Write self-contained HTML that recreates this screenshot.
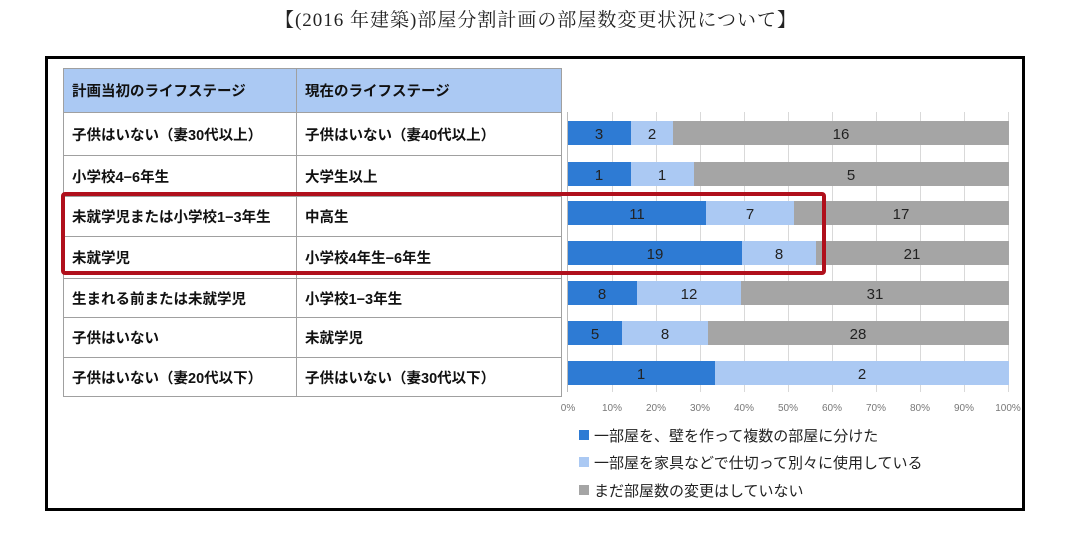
<!DOCTYPE html>
<html><head><meta charset="utf-8"><style>
body{margin:0;background:#fff;width:1072px;height:537px;position:relative;overflow:hidden;font-family:"Liberation Sans","Noto Sans CJK JP",sans-serif}
.t{position:absolute;top:5px;left:0;width:1072px;text-align:center;font-family:"Liberation Serif","Noto Serif CJK SC",serif;font-size:19px;letter-spacing:1px;color:#222}
.box{position:absolute;left:45px;top:56px;width:974px;height:449px;border:3px solid #000}
table{position:absolute;left:63px;top:68px;border-collapse:collapse;font-size:14.5px;font-weight:bold;color:#111}
td{border:1px solid #a0a0a0;padding:0 0 0 8px;height:39px;box-sizing:border-box}
</style></head><body>
<div class="t">【(2016 年建築)部屋分割計画の部屋数変更状況について】</div>
<div class="box"></div>
<table>
<tr style="background:#abc9f3"><td style="width:233px;height:44px">計画当初のライフステージ</td><td style="width:265px">現在のライフステージ</td></tr>
<tr><td style="height:43px">子供はいない（妻30代以上）</td><td>子供はいない（妻40代以上）</td></tr>
<tr><td style="height:41px">小学校4−6年生</td><td>大学生以上</td></tr>
<tr><td style="height:40px">未就学児または小学校1−3年生</td><td>中高生</td></tr>
<tr><td style="height:42px">未就学児</td><td>小学校4年生−6年生</td></tr>
<tr><td style="height:39px">生まれる前または未就学児</td><td>小学校1−3年生</td></tr>
<tr><td style="height:40px">子供はいない</td><td>未就学児</td></tr>
<tr><td style="height:31px">子供はいない（妻20代以下）</td><td>子供はいない（妻30代以下）</td></tr>
</table>
<svg width="1072" height="537" style="position:absolute;left:0;top:0" font-family="Liberation Sans, Noto Sans CJK JP, sans-serif">
<g stroke="#d9d9d9" stroke-width="1">
<line x1="612.5" y1="112" x2="612.5" y2="392"/><line x1="656.5" y1="112" x2="656.5" y2="392"/><line x1="700.5" y1="112" x2="700.5" y2="392"/><line x1="744.5" y1="112" x2="744.5" y2="392"/><line x1="788.5" y1="112" x2="788.5" y2="392"/><line x1="832.5" y1="112" x2="832.5" y2="392"/><line x1="876.5" y1="112" x2="876.5" y2="392"/><line x1="920.5" y1="112" x2="920.5" y2="392"/><line x1="964.5" y1="112" x2="964.5" y2="392"/><line x1="1008.5" y1="112" x2="1008.5" y2="392"/>
</g>
<line x1="567.5" y1="112" x2="567.5" y2="392" stroke="#bbb"/>
<g font-size="15" fill="#222" text-anchor="middle">
<rect x="568" y="121" width="63" height="24" fill="#2e7bd4"/><rect x="631" y="121" width="42" height="24" fill="#abc9f3"/><rect x="673" y="121" width="336" height="24" fill="#a5a5a5"/>
<text x="599" y="139">3</text><text x="652" y="139">2</text><text x="841" y="139">16</text>
<rect x="568" y="162" width="63" height="24" fill="#2e7bd4"/><rect x="631" y="162" width="63" height="24" fill="#abc9f3"/><rect x="694" y="162" width="315" height="24" fill="#a5a5a5"/>
<text x="599" y="180">1</text><text x="662" y="180">1</text><text x="851" y="180">5</text>
<rect x="568" y="201" width="138" height="24" fill="#2e7bd4"/><rect x="706" y="201" width="88" height="24" fill="#abc9f3"/><rect x="794" y="201" width="215" height="24" fill="#a5a5a5"/>
<text x="637" y="219">11</text><text x="750" y="219">7</text><text x="901" y="219">17</text>
<rect x="568" y="241" width="174" height="24" fill="#2e7bd4"/><rect x="742" y="241" width="74" height="24" fill="#abc9f3"/><rect x="816" y="241" width="193" height="24" fill="#a5a5a5"/>
<text x="655" y="259">19</text><text x="779" y="259">8</text><text x="912" y="259">21</text>
<rect x="568" y="281" width="69" height="24" fill="#2e7bd4"/><rect x="637" y="281" width="104" height="24" fill="#abc9f3"/><rect x="741" y="281" width="268" height="24" fill="#a5a5a5"/>
<text x="602" y="299">8</text><text x="689" y="299">12</text><text x="875" y="299">31</text>
<rect x="568" y="321" width="54" height="24" fill="#2e7bd4"/><rect x="622" y="321" width="86" height="24" fill="#abc9f3"/><rect x="708" y="321" width="301" height="24" fill="#a5a5a5"/>
<text x="595" y="339">5</text><text x="665" y="339">8</text><text x="858" y="339">28</text>
<rect x="568" y="361" width="147" height="24" fill="#2e7bd4"/><rect x="715" y="361" width="294" height="24" fill="#abc9f3"/>
<text x="641" y="379">1</text><text x="862" y="379">2</text>
</g>
<g font-size="10" fill="#777" text-anchor="middle">
<text x="568" y="411">0%</text><text x="612" y="411">10%</text><text x="656" y="411">20%</text><text x="700" y="411">30%</text><text x="744" y="411">40%</text><text x="788" y="411">50%</text><text x="832" y="411">60%</text><text x="876" y="411">70%</text><text x="920" y="411">80%</text><text x="964" y="411">90%</text><text x="1008" y="411">100%</text>
</g>
<rect x="63" y="194" width="761" height="79" fill="none" stroke="#b0101c" stroke-width="4" rx="2"/>
<g font-size="15" fill="#222">
<rect x="579" y="430" width="10" height="10" fill="#2e7bd4"/><text x="594" y="441">一部屋を、壁を作って複数の部屋に分けた</text>
<rect x="579" y="457" width="10" height="10" fill="#abc9f3"/><text x="594" y="468">一部屋を家具などで仕切って別々に使用している</text>
<rect x="579" y="485" width="10" height="10" fill="#a5a5a5"/><text x="594" y="496">まだ部屋数の変更はしていない</text>
</g>
</svg>
</body></html>
